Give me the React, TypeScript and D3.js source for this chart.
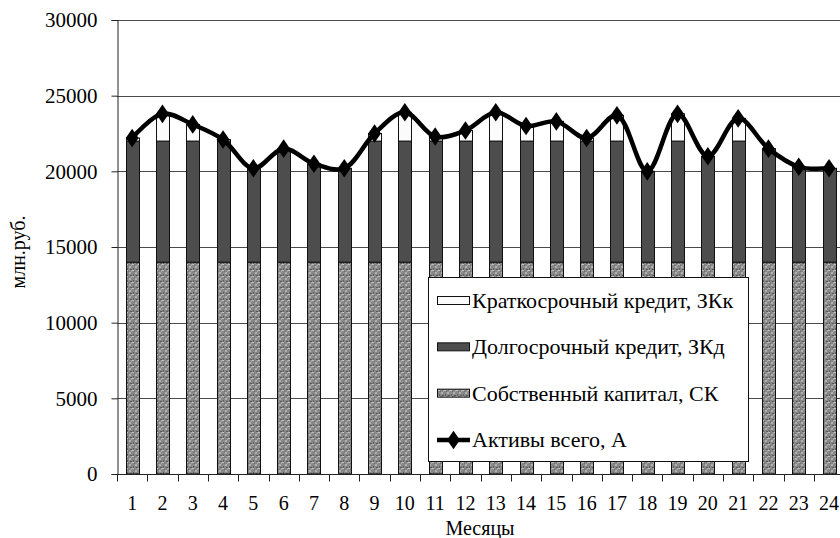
import React, { useEffect, useRef } from 'react';
import * as d3 from 'd3';

const months = ['1', '2', '3', '4', '5', '6', '7', '8', '9', '10', '11', '12', '13', '14', '15', '16', '17', '18', '19', '20', '21', '22', '23', '24'];
const ownCapital = [14000, 14000, 14000, 14000, 14000, 14000, 14000, 14000, 14000, 14000, 14000, 14000, 14000, 14000, 14000, 14000, 14000, 14000, 14000, 14000, 14000, 14000, 14000, 14000];
const longCredit = [8000, 8000, 8000, 8000, 6200, 7500, 6500, 6200, 8000, 8000, 8000, 8000, 8000, 8000, 8000, 8000, 8000, 6000, 8000, 7000, 8000, 7500, 6300, 6200];
const shortCredit = [200, 1800, 1100, 100, 0, 0, 0, 0, 500, 1900, 300, 700, 1900, 1000, 1300, 200, 1700, 0, 1800, 0, 1500, 0, 0, 0];
const totalAssets = [22200, 23800, 23100, 22100, 20200, 21500, 20500, 20200, 22500, 23900, 22300, 22700, 23900, 23000, 23300, 22200, 23700, 20000, 23800, 21000, 23500, 21500, 20300, 20200];
const yTicks = [0, 5000, 10000, 15000, 20000, 25000, 30000];

const legendItems = [
    { label: 'Краткосрочный кредит, ЗКк', kind: 'short' },
    { label: 'Долгосрочный кредит, ЗКд', kind: 'long' },
    { label: 'Собственный капитал, СК', kind: 'own' },
    { label: 'Активы всего, А', kind: 'line' },
];

const FONT = 'Liberation Serif, Times New Roman, Times, Tinos, Noto Serif, DejaVu Serif, serif';

const App = () => {
    const chartRef = useRef(null);

    useEffect(() => {
        drawChart();
        // eslint-disable-next-line react-hooks/exhaustive-deps
    }, []);

    const drawChart = () => {
        d3.select(chartRef.current).selectAll('*').remove();

        const width = 840;
        const height = 538;
        const left = 117;
        const top = 20;
        const bottom = 474;
        const bandW = 30.3;

        const svg = d3.select(chartRef.current)
            .append('svg')
            .attr('width', width)
            .attr('height', height)
            .attr('font-family', FONT)
            .style('position', 'absolute')
            .style('left', '0px')
            .style('top', '0px')
            .style('background', '#ffffff');

        // mottled fill for own capital
        const defs = svg.append('defs');
        const pat = defs.append('pattern')
            .attr('id', 'speckle')
            .attr('patternUnits', 'userSpaceOnUse')
            .attr('width', 6)
            .attr('height', 6);
        pat.append('rect').attr('width', 6).attr('height', 6).attr('fill', '#888888');
        pat.append('rect').attr('x', 0).attr('y', 0).attr('width', 2).attr('height', 1).attr('fill', '#c0c0c0');
        pat.append('rect').attr('x', 3).attr('y', 2).attr('width', 2).attr('height', 2).attr('fill', '#b0b0b0');
        pat.append('rect').attr('x', 1).attr('y', 4).attr('width', 1).attr('height', 2).attr('fill', '#626262');
        pat.append('rect').attr('x', 4).attr('y', 5).attr('width', 2).attr('height', 1).attr('fill', '#5a5a5a');
        pat.append('rect').attr('x', 2).attr('y', 1).attr('width', 1).attr('height', 1).attr('fill', '#6c6c6c');
        pat.append('rect').attr('x', 5).attr('y', 0).attr('width', 1).attr('height', 2).attr('fill', '#a4a4a4');

        const x = d3.scaleBand()
            .domain(months)
            .range([left, left + bandW * months.length])
            .paddingInner(0)
            .paddingOuter(0);

        const y = d3.scaleLinear()
            .domain([0, 30000])
            .range([bottom, top]);

        // gridlines
        svg.append('g')
            .selectAll('line')
            .data(yTicks.filter(d => d > 0))
            .enter()
            .append('line')
            .attr('x1', left)
            .attr('x2', width)
            .attr('y1', d => Math.round(y(d)) + 0.5)
            .attr('y2', d => Math.round(y(d)) + 0.5)
            .attr('stroke', '#4a4a4a')
            .attr('stroke-width', 1);

        // stacked bars
        const rows = months.map((m, i) => ({ month: m, own: ownCapital[i], long: longCredit[i], short: shortCredit[i] }));
        const stack = d3.stack().keys(['own', 'long', 'short']);
        const series = stack(rows);
        const fills = { own: 'url(#speckle)', long: '#4d4d4d', short: '#fbfbfb' };
        const barW = 13;

        svg.append('g')
            .selectAll('g')
            .data(series)
            .enter()
            .append('g')
            .attr('fill', d => fills[d.key])
            .selectAll('rect')
            .data(d => d.filter(s => s[1] - s[0] > 0))
            .enter()
            .append('rect')
            .attr('x', d => Math.round(x(d.data.month) + (bandW - barW) / 2) + 0.5)
            .attr('y', d => y(d[1]))
            .attr('width', barW)
            .attr('height', d => y(d[0]) - y(d[1]))
            .attr('stroke', '#111')
            .attr('stroke-width', 1);

        // total assets line
        const pts = months.map((m, i) => [x(m) + bandW / 2, y(totalAssets[i])]);
        const line = d3.line().curve(d3.curveCatmullRom.alpha(0.5));
        svg.append('path')
            .attr('d', line(pts))
            .attr('fill', 'none')
            .attr('stroke', '#000')
            .attr('stroke-width', 4.5)
            .attr('stroke-linejoin', 'round');

        const diamond = d3.symbol().type(d3.symbolDiamond).size(100);
        svg.append('g')
            .selectAll('path')
            .data(pts)
            .enter()
            .append('path')
            .attr('d', diamond)
            .attr('transform', d => `translate(${d[0]},${d[1]}) scale(1.2,1)`)
            .attr('fill', '#000');

        // axes
        const yAxis = svg.append('g')
            .attr('transform', `translate(${left + 0.5},0)`)
            .call(d3.axisLeft(y).tickValues(yTicks).tickSize(6).tickPadding(14).tickFormat(d3.format('d')));
        yAxis.attr('font-family', FONT).attr('font-size', 21);
        yAxis.select('.domain').attr('stroke', '#222');
        yAxis.selectAll('.tick line').attr('stroke', '#222');
        yAxis.selectAll('text').attr('fill', '#000');

        const xAxisG = svg.append('g').attr('transform', `translate(0,${bottom + 0.5})`);
        xAxisG.append('line')
            .attr('x1', left)
            .attr('x2', width)
            .attr('stroke', '#222');
        xAxisG.selectAll('line.tk')
            .data(months)
            .enter()
            .append('line')
            .attr('class', 'tk')
            .attr('x1', d => Math.round(x(d)) + 0.5)
            .attr('x2', d => Math.round(x(d)) + 0.5)
            .attr('y1', 0)
            .attr('y2', 7)
            .attr('stroke', '#222');
        xAxisG.selectAll('text')
            .data(months)
            .enter()
            .append('text')
            .attr('x', d => x(d) + bandW / 2)
            .attr('y', 35.5)
            .attr('text-anchor', 'middle')
            .attr('font-size', 20)
            .text(d => d);

        // axis titles
        svg.append('text')
            .attr('x', 480)
            .attr('y', 535)
            .attr('text-anchor', 'middle')
            .attr('font-size', 20)
            .text('Месяцы');

        svg.append('text')
            .attr('transform', 'translate(25,252) rotate(-90)')
            .attr('text-anchor', 'middle')
            .attr('font-size', 20)
            .text('млн.руб.');

        // legend
        const lg = svg.append('g');
        lg.append('rect')
            .attr('x', 428.5)
            .attr('y', 277.5)
            .attr('width', 320)
            .attr('height', 184)
            .attr('fill', '#fff')
            .attr('stroke', '#111');

        const rowY = d3.scalePoint()
            .domain(legendItems.map(d => d.label))
            .range([301, 440]);

        legendItems.forEach(item => {
            const cy = rowY(item.label);
            if (item.kind === 'line') {
                lg.append('line')
                    .attr('x1', 437)
                    .attr('x2', 470)
                    .attr('y1', cy)
                    .attr('y2', cy)
                    .attr('stroke', '#000')
                    .attr('stroke-width', 4.5);
                lg.append('path')
                    .attr('d', diamond)
                    .attr('transform', `translate(453.5,${cy}) scale(1.2,1)`)
                    .attr('fill', '#000');
            } else {
                lg.append('rect')
                    .attr('x', 437.5)
                    .attr('y', cy - 4.5)
                    .attr('width', 32)
                    .attr('height', 8)
                    .attr('fill', fills[item.kind])
                    .attr('stroke', '#111');
            }
            lg.append('text')
                .attr('x', 472)
                .attr('y', cy + 7)
                .attr('font-size', 22)
                .attr('fill', '#000')
                .text(item.label);
        });
    };

    return (
        <div ref={chartRef}></div>
    );
};

export default App;
